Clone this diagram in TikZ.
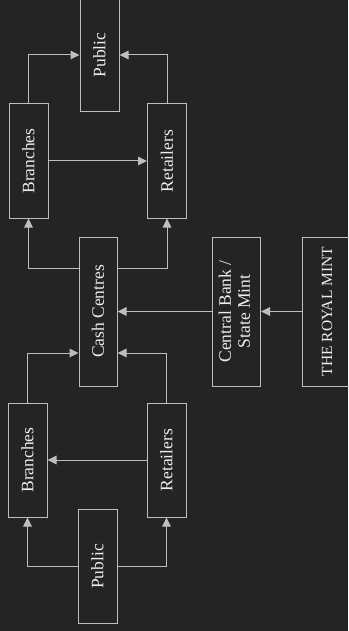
\documentclass[tikz,border=0pt]{standalone}
\usepackage{fontspec}
\setmainfont{Liberation Serif}
\usetikzlibrary{arrows.meta, positioning}
\definecolor{bg}{HTML}{242424}
\definecolor{ln}{HTML}{BEBEBE}
\definecolor{tx}{HTML}{EEEEEE}
\newcommand{\vtext}[1]{\rotatebox{90}{#1}}
\tikzset{
    unit/.style={draw=ln, line width=1pt, text=tx, inner sep=0pt,
        minimum width=39pt, minimum height=114pt,
        font=\fontsize{17.5}{19}\selectfont},
    flow/.style={draw=ln, line width=1pt, -{Triangle[length=9pt, width=8.5pt]}}
}

\begin{document}
\begin{tikzpicture}[x=1pt, y=-1pt]
    \fill[bg] (0, 0) rectangle (348, 631);
    \useasboundingbox (0, 0) rectangle (348, 631);

    \node[unit] (pubt) at (99.5, 55) {\vtext{Public}};
    \node[unit] (brt) at (28.5, 161) {\vtext{Branches}};
    \node[unit] (rtt) at (167, 161) {\vtext{Retailers}};
    \node[unit, minimum width=38pt, minimum height=149pt] (cash) at (98, 311.5) {\vtext{Cash Centres}};
    \node[unit, minimum width=48pt, minimum height=149pt] (cbank) at (236.5, 311.5)
        {\vtext{\begin{tabular}{@{}c@{}}Central Bank /\\State Mint\end{tabular}}};
    \node[unit, minimum width=50pt, minimum height=149pt, font=\fontsize{15.5}{17}\selectfont] (mint) at (327, 311.5) {\vtext{THE ROYAL MINT}};
    \node[unit] (brb) at (27.5, 460) {\vtext{Branches}};
    \node[unit] (rtb) at (166.5, 460) {\vtext{Retailers}};
    \node[unit] (pubb) at (97.5, 566.5) {\vtext{Public}};

    % upper half
    \draw[flow] (brt) |- (pubt);
    \draw[flow] (rtt) |- (pubt);
    \draw[flow] (brt) -- (rtt);
    \draw[flow] ([yshift=43.5pt]cash.west) -| (brt);
    \draw[flow] ([yshift=43.5pt]cash.east) -| (rtt);

    % supply chain
    \draw[flow] (mint) -- (cbank);
    \draw[flow] (cbank) -- (cash);

    % lower half
    \draw[flow] (brb) |- ([yshift=-41.5pt]cash.west);
    \draw[flow] (rtb) |- ([yshift=-41.5pt]cash.east);
    \draw[flow] (rtb) -- (brb);
    \draw[flow] (pubb) -| (brb);
    \draw[flow] (pubb) -| (rtb);
\end{tikzpicture}
\end{document}
